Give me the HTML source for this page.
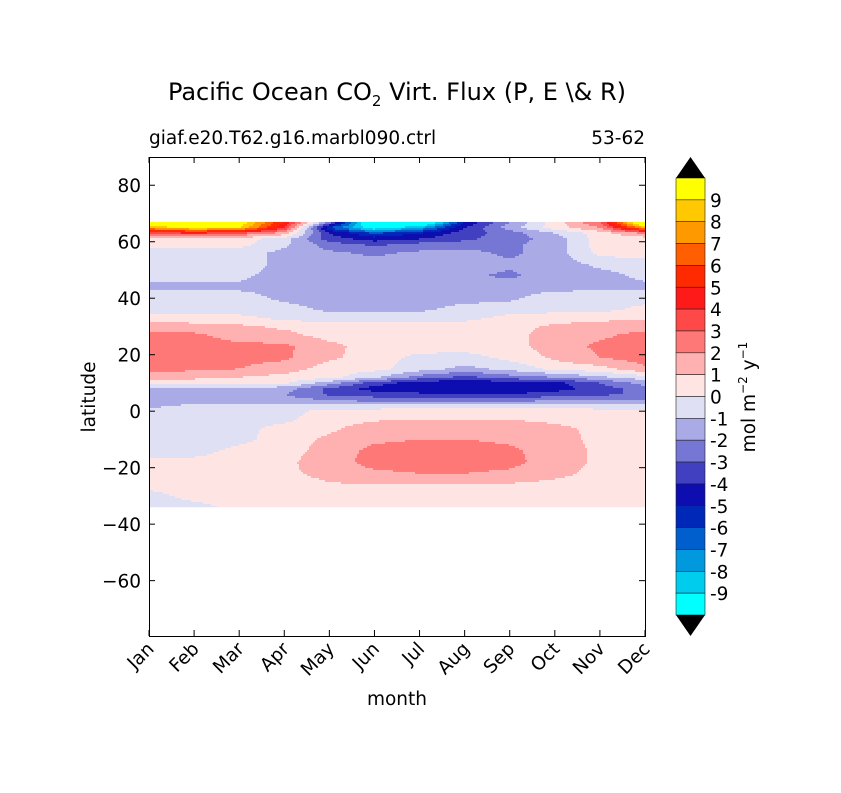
<!DOCTYPE html>
<html><head><meta charset="utf-8"><style>
body{margin:0;background:#fff;}
svg text{font-family:"DejaVu Sans","Liberation Sans",sans-serif;fill:#000;}
</style></head><body>
<svg id="chart" width="841" height="788" viewBox="0 0 841 788" xmlns="http://www.w3.org/2000/svg">
<rect width="841" height="788" fill="#fff"/>
<text x="397" y="100" font-size="24" text-anchor="middle">Pacific Ocean CO<tspan font-size="15" dy="6">2</tspan><tspan dy="-6"> Virt. Flux (P, E \&amp; R)</tspan></text>
<text x="149" y="144" font-size="18.5">giaf.e20.T62.g16.marbl090.ctrl</text>
<text x="645" y="144" font-size="18.5" text-anchor="end">53-62</text>
<g id="field"></g>
<rect x="149.5" y="157.5" width="496" height="479" fill="none" stroke="#000" stroke-width="1"/>
<g id="axes"></g>
<text transform="translate(95,397) rotate(-90)" font-size="18.5" text-anchor="middle">latitude</text>
<text x="397" y="705" font-size="18.5" text-anchor="middle">month</text>
<g id="cbar"></g>
<text transform="translate(755,397) rotate(-90)" font-size="18.5" text-anchor="middle">mol m<tspan font-size="12" dy="-8">−2</tspan><tspan dy="8">  y</tspan><tspan font-size="12" dy="-8">−1</tspan></text>
</svg>
<script>
const months=["Jan","Feb","Mar","Apr","May","Jun","Jul","Aug","Sep","Oct","Nov","Dec"];
const yTicks=[80,60,40,20,0,-20,-40,-60];
const levels=[9,8,7,6,5,4,3,2,1,0,-1,-2,-3,-4,-5,-6,-7,-8,-9];
const binColors=["#ffff00","#ffc800","#ff9900","#ff5f00","#ff2a00","#ff1a1a","#ff4848","#ff7878","#ffb0b0","#ffe4e4","#dfe0f4","#aaaae6","#7676d4","#4040c0","#0d0db0","#0028b8","#005fcc","#0099dd","#00ccee","#00ffff"];
const lats=[67,65,63,61,59,56,52,48,44,40,36,33,30,27,23,19,15,12,10,8,6,4,2,0,-3,-6,-10,-14,-18,-22,-26,-30,-34];
const field=[
[12,12,10,5,-2,-12,-12,-5,-2,0.5,3,12],
[8,9.5,9,4,-6,-10,-8,-4,-1.5,0.5,2,8],
[3,4,3,1.5,-4,-6,-5,-3.5,-2.5,-1,0.5,2],
[0.5,0.5,0.5,-0.5,-3.5,-4.5,-4,-3.2,-2.5,-1.5,0.5,0.5],
[0.5,0.5,0.3,-0.8,-2.5,-3.2,-2.6,-2.5,-2.2,-1.5,0.5,0.5],
[-0.5,-0.5,-0.5,-1.3,-1.8,-2.2,-1.8,-1.7,-2.2,-1.5,0.3,0.5],
[-0.5,-0.5,-0.5,-1.3,-1.5,-1.5,-1.5,-1.5,-1.8,-1.5,-0.8,-0.5],
[-0.8,-0.8,-0.8,-1.4,-1.5,-1.5,-1.5,-1.8,-2.2,-1.5,-1.3,-0.8],
[-1.2,-1.2,-1.2,-1.3,-1.5,-1.6,-1.5,-1.5,-1.4,-1.3,-1.3,-1.2],
[-0.5,-0.5,-0.6,-1.2,-1.5,-1.5,-1.5,-1.4,-1.2,-0.5,-0.4,-0.4],
[-0.4,-0.4,-0.5,-0.6,-1.2,-1.3,-1.2,-0.6,-0.4,-0.3,-0.3,0.3],
[0.5,0.4,0.3,-0.3,-0.5,-0.5,-0.4,-0.3,0.3,0.5,0.7,0.8],
[1.5,1.4,1.2,0.8,0.5,0.4,0.5,0.5,0.6,1.2,1.5,1.6],
[2.3,2.2,1.5,1.3,0.6,0.5,0.5,0.5,0.6,1.5,1.8,2.3],
[2.5,2.5,2.3,2.2,1.3,0.5,0.5,0.5,0.6,1.5,2.2,2.5],
[2.5,2.5,2.3,2.2,1.2,0.5,-0.3,-0.4,0.3,1.2,2.0,2.5],
[2.3,2.2,2.0,1.5,0.5,0.3,-0.5,-1.3,-0.7,0.3,0.6,1.8],
[1.5,1.3,1.0,0.6,0.3,-0.8,-2.5,-3.3,-2.5,-2,-1.2,-0.5],
[0.5,0.3,0.4,0.2,-1.5,-3.5,-4.5,-4.8,-4.5,-4.3,-3,-1.5],
[-1.5,-1.5,-1.5,-1.5,-3.2,-4.5,-4.7,-4.8,-4.7,-4.5,-3.5,-2.5],
[-1.5,-1.5,-1.6,-2,-3.2,-3.5,-3.8,-4,-4,-3.5,-3.2,-2.8],
[-1.5,-1.5,-1.5,-1.6,-2,-2.5,-2.5,-2.5,-2.5,-2.2,-2.2,-2.2],
[-1.3,-0.8,-0.6,-0.5,-0.5,-0.8,-0.6,-0.5,-0.5,-0.6,-0.8,-0.8],
[-0.5,-0.5,-0.5,-0.3,0.3,0.5,0.5,0.5,0.5,0.5,0.5,0.5],
[-0.5,-0.5,-0.4,-0.2,0.5,0.9,1.0,1.0,1.0,0.8,0.5,0.5],
[-0.5,-0.5,-0.3,0.3,0.8,1.5,1.5,1.5,1.5,1.2,0.8,0.7],
[-0.5,-0.5,-0.3,0.5,1.2,1.8,2.0,2.0,1.8,1.3,0.8,0.6],
[-0.4,-0.4,0.3,0.6,1.4,2.3,2.5,2.5,2.2,1.5,0.8,0.6],
[0.3,0.3,0.5,0.8,1.5,2.4,2.5,2.5,2.3,1.5,0.8,0.6],
[0.5,0.5,0.6,0.8,1.3,1.8,2.0,2.0,1.8,1.3,0.7,0.6],
[0.3,0.5,0.5,0.6,0.9,1.0,1.0,1.0,0.9,0.7,0.5,0.5],
[-0.3,0.3,0.4,0.5,0.5,0.6,0.6,0.5,0.5,0.5,0.4,0.3],
[-0.5,-0.3,0.3,0.4,0.4,0.4,0.4,0.4,0.4,0.4,0.3,0.3]
];
const NS="http://www.w3.org/2000/svg";
const X0=149,X1=645,Y0=157,Y1=636,LATMAX=90,LATMIN=-79.6;
function xScale(m){return X0+m*(X1-X0)/11;}
function yScale(l){return Y1-(l-LATMIN)*(Y1-Y0)/(LATMAX-LATMIN);}
function mk(tag,attrs,parent){const e=document.createElementNS(NS,tag);for(const k in attrs)e.setAttribute(k,attrs[k]);parent.appendChild(e);return e;}
function sample(m,l){
  let i=0;while(i<lats.length-2&&l<lats[i+1])i++;
  const t=Math.max(0,Math.min(1,(lats[i]-l)/(lats[i]-lats[i+1])));
  let j=Math.min(Math.floor(m),10);const s=m-j;
  const a=field[i][j]*(1-s)+field[i][j+1]*s;
  const b=field[i+1][j]*(1-s)+field[i+1][j+1]*s;
  return a*(1-t)+b*t;
}
function binIdx(v){let k=Math.floor(v);k=Math.max(-10,Math.min(9,k));return 9-k;}
function drawField(){
  const g=document.getElementById('field');
  const yTop=yScale(lats[0]),yBot=yScale(lats[lats.length-1]);
  const step=2;
  for(let y=yTop;y<yBot;y+=step){
    const l=LATMIN+(Y1-(y+step/2))*(LATMAX-LATMIN)/(Y1-Y0);
    let runStart=X0,runBin=null;
    for(let x=X0;x<=X1;x+=step){
      let b=null;
      if(x<X1){const m=(x+step/2-X0)*11/(X1-X0);b=binIdx(sample(Math.min(m,11),l));}
      if(b!==runBin){
        if(runBin!==null){
          const r=mk('rect',{x:runStart,y:y,width:Math.min(x,X1)-runStart+0.5,height:Math.min(step+0.5,yBot-y),fill:binColors[runBin]},g);
          
          
        }
        runStart=x;runBin=b;
      }
    }
  }
}
drawField();
function drawAxes(){
  const ax=document.getElementById('axes');
  yTicks.forEach(v=>{
    const y=yScale(v);
    mk('line',{x1:X0,x2:X0+6,y1:y,y2:y,stroke:'#000'},ax);
    mk('line',{x1:X1-6,x2:X1,y1:y,y2:y,stroke:'#000'},ax);
    const t=mk('text',{x:X0-8,y:y+7,'font-size':18.5,'text-anchor':'end'},ax);
    t.textContent=v<0?'−'+Math.abs(v):String(v);
    
    
  });
  months.forEach((mn,i)=>{
    const x=xScale(i);
    mk('line',{x1:x,x2:x,y1:Y1,y2:Y1-6,stroke:'#000'},ax);
    mk('line',{x1:x,x2:x,y1:Y0,y2:Y0+6,stroke:'#000'},ax);
    const t=mk('text',{transform:`translate(${x+6},${Y1+14}) rotate(-45)`,'font-size':18.5,'text-anchor':'end'},ax);
    t.textContent=mn;
    
    
  });
}
drawAxes();
function drawColorbar(){
  const cb=document.getElementById('cbar');
  const CX=676,CW=29,CT=178,CB=615,bh=(CB-CT)/binColors.length;
  binColors.forEach((c,i)=>{
    const r=mk('rect',{x:CX,y:CT+i*bh,width:CW,height:bh,fill:c,stroke:'#222','stroke-width':0.6},cb);
    
    
  });
  const up=mk('polygon',{points:`${CX},${CT} ${CX+CW},${CT} ${CX+CW/2},157`,fill:'#000'},cb);
  
  
  const dn=mk('polygon',{points:`${CX},${CB} ${CX+CW},${CB} ${CX+CW/2},636`,fill:'#000'},cb);
  
  
  levels.forEach((v,i)=>{
    const y=CT+(i+1)*bh;
    const t=mk('text',{x:CX+CW+5,y:y+7,'font-size':18.5},cb);
    t.textContent=String(v);
    
    
  });
}
drawColorbar();
</script>
</body></html>
